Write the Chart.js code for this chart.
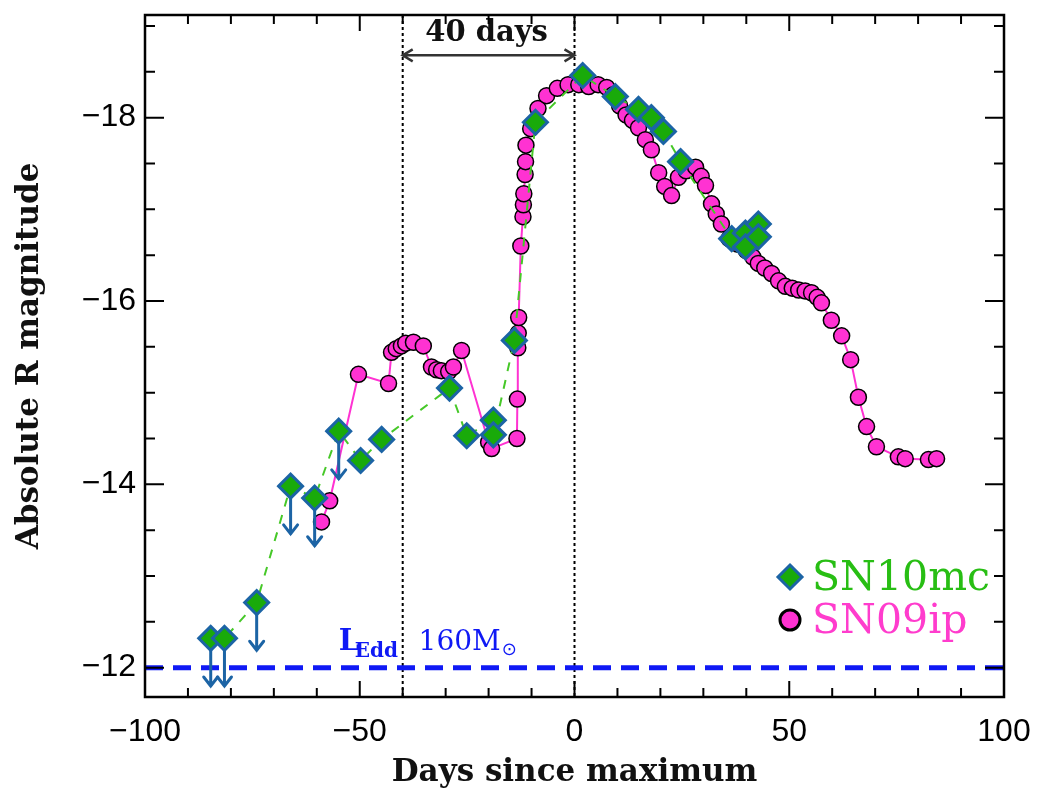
<!DOCTYPE html>
<html>
<head>
<meta charset="utf-8">
<script src="https://cdn.jsdelivr.net/npm/chart.js@4/dist/chart.umd.min.js"></script>
<style>
  html, body { margin: 0; padding: 0; background: #fff; }
</style>
</head>
<body>
<canvas id="lightCurve" width="1039" height="793"></canvas>
<script>
// SN 2010mc (diamonds, first six are upper limits)
const mcDays = [-84.7, -81.5, -74.0, -66.1, -60.5, -54.9, -49.8, -44.9, -29.1, -25.1, -18.9, -18.9, -14.0,
  -9.1, 1.9, 9.5, 14.9, 17.9, 20.7, 24.7, 36.6, 39.8, 39.8, 42.8, 42.8];
const mcMags = [-12.32, -12.32, -12.71, -13.98, -13.85, -14.58, -14.26, -14.49, -15.05, -14.53, -14.70, -14.54, -15.57,
  -17.95, -18.46, -18.23, -18.09, -18.00, -17.85, -17.52, -16.68, -16.74, -16.59, -16.84, -16.70];
const mcUpperLimit = [1, 1, 1, 1, 1, 1, 0, 0, 0, 0, 0, 0, 0, 0, 0, 0, 0, 0, 0, 0, 0, 0, 0, 0, 0];

// SN 2009ip (circles)
const ipDays = [-58.9, -57.0, -50.3, -43.3, -42.6, -41.5, -40.3, -39.3, -37.5, -35.2, -33.3, -32.1, -31.0, -29.3,
  -28.2, -26.3, -20.0, -19.3, -13.4, -13.3, -13.2, -13.1, -13.0, -12.5, -12.0, -11.9, -11.8, -11.5, -11.4, -11.3,
  -10.2, -8.5, -6.5, -4.0, -1.5, 1.0, 3.3, 5.5, 7.5, 9.0, 10.5, 12.0, 13.5, 14.9, 16.5, 17.9, 19.6, 21.0, 22.6,
  24.2, 26.0, 28.2, 29.5, 30.5, 31.9, 33.0, 34.2, 36.0, 38.0, 40.0, 41.5, 42.8, 44.3, 45.9, 47.5, 49.1, 50.7, 52.2,
  53.7, 55.2, 56.5, 57.5, 59.8, 62.2, 64.3, 66.1, 68.0, 70.3, 75.4, 77.0, 82.4, 84.3];
const ipMags = [-13.59, -13.82, -15.20, -15.10, -15.44, -15.48, -15.51, -15.54, -15.55, -15.51, -15.28, -15.25, -15.24, -15.23,
  -15.28, -15.46, -14.46, -14.39, -14.50, -14.93, -15.49, -15.65, -15.82, -16.60, -16.92, -17.05, -17.17, -17.38, -17.52, -17.70,
  -17.88, -18.10, -18.24, -18.32, -18.36, -18.36, -18.34, -18.36, -18.33, -18.25, -18.13, -18.03, -17.97, -17.89, -17.76, -17.65, -17.40, -17.25, -17.15,
  -17.35, -17.42, -17.46, -17.36, -17.26, -17.06, -16.95, -16.84, -16.68, -16.62, -16.55, -16.48, -16.41, -16.36, -16.30, -16.22, -16.16, -16.14, -16.12,
  -16.11, -16.09, -16.04, -15.98, -15.79, -15.62, -15.36, -14.95, -14.63, -14.41, -14.30, -14.28, -14.27, -14.28];

const xTickValues = [-100, -50, 0, 50, 100];
const yTickValues = [-18, -16, -14, -12];
const eddMag = -12;          // Eddington limit for 160 Msun
const markDays = [-40, 0];   // dotted verticals, "40 days" apart

const xMin = -100, xMax = 100;
const yMin = -19.12, yMax = -11.68;

const GREEN = 'rgb(25,170,10)';
const EDGE_BLUE = 'rgb(28,100,165)';
const MAGENTA = 'rgb(255,50,210)';
const LINE_BLUE = 'rgb(15,25,245)';

const fmtMinus = (v) => (v < 0 ? '\u2212' + Math.abs(v) : String(v));

// upper-limit arrows, drawn after SN09ip but under the diamonds
const limitArrows = {
  id: 'limitArrows',
  afterDatasetDraw(chart, args) {
    if (args.index !== 1) return;
    const { ctx, scales: { x, y } } = chart;
    ctx.save();
    ctx.strokeStyle = EDGE_BLUE;
    ctx.lineWidth = 3;
    ctx.lineCap = 'round';
    mcDays.forEach((d, i) => {
      if (!mcUpperLimit[i]) return;
      const px = x.getPixelForValue(d);
      const y0 = y.getPixelForValue(mcMags[i]);
      const y1 = y.getPixelForValue(mcMags[i] + 0.52);
      ctx.beginPath();
      ctx.moveTo(px, y0);
      ctx.lineTo(px, y1);
      ctx.moveTo(px - 7, y1 - 9);
      ctx.lineTo(px, y1);
      ctx.lineTo(px + 7, y1 - 9);
      ctx.stroke();
    });
    ctx.restore();
  }
};

// annotations: 40 days arrow, Eddington label, legend
const annotations = {
  id: 'annotations',
  afterDatasetsDraw(chart) {
    const { ctx, chartArea: a, scales: { x, y } } = chart;
    ctx.save();

    // double arrow between the dotted lines
    const xa = x.getPixelForValue(markDays[0]);
    const xb = x.getPixelForValue(markDays[1]);
    const ya = y.getPixelForValue(-18.68);
    ctx.strokeStyle = '#333';
    ctx.lineWidth = 2.5;
    ctx.beginPath();
    ctx.moveTo(xa, ya); ctx.lineTo(xb, ya);
    ctx.moveTo(xa + 10, ya - 6); ctx.lineTo(xa, ya); ctx.lineTo(xa + 10, ya + 6);
    ctx.moveTo(xb - 10, ya - 6); ctx.lineTo(xb, ya); ctx.lineTo(xb - 10, ya + 6);
    ctx.stroke();
    ctx.fillStyle = '#111';
    ctx.font = 'bold 29px "DejaVu Serif"';
    ctx.textAlign = 'center';
    ctx.textBaseline = 'alphabetic';
    ctx.fillText('40 days', (xa + xb) / 2 - 2, y.getPixelForValue(-18.84));

    // L_Edd 160 Msun label
    ctx.fillStyle = LINE_BLUE;
    ctx.textAlign = 'left';
    const lx = x.getPixelForValue(-54.9);
    const ly = y.getPixelForValue(-12.19);
    ctx.font = 'bold 29px "DejaVu Serif"';
    ctx.fillText('L', lx, ly);
    ctx.font = 'bold 20px "DejaVu Serif"';
    ctx.fillText('Edd', lx + 16, ly + 7);
    ctx.font = '28px "DejaVu Serif"';
    const mx = x.getPixelForValue(-36.3);
    ctx.fillText('160M', mx, ly);
    const mw = ctx.measureText('160M').width;
    ctx.font = '18px "DejaVu Sans"';
    ctx.fillText('\u2299', mx + mw + 1, ly + 5);

    // legend
    const lgX = a.right - 214;
    const row1 = a.bottom - 120;
    const row2 = a.bottom - 77;
    ctx.beginPath();
    ctx.moveTo(lgX, row1 - 12); ctx.lineTo(lgX + 12, row1);
    ctx.lineTo(lgX, row1 + 12); ctx.lineTo(lgX - 12, row1); ctx.closePath();
    ctx.fillStyle = GREEN; ctx.fill();
    ctx.strokeStyle = EDGE_BLUE; ctx.lineWidth = 3; ctx.stroke();
    ctx.beginPath();
    ctx.arc(lgX, row2, 10, 0, Math.PI * 2);
    ctx.fillStyle = MAGENTA; ctx.fill();
    ctx.strokeStyle = '#000'; ctx.lineWidth = 3; ctx.stroke();
    ctx.font = '41px "DejaVu Serif"';
    ctx.textBaseline = 'middle';
    ctx.fillStyle = 'rgb(40,190,20)';
    ctx.fillText('SN10mc', lgX + 22, row1 + 2);
    ctx.fillStyle = 'rgb(255,60,205)';
    ctx.fillText('SN09ip', lgX + 22, row2 + 2);
    ctx.restore();
  }
};

// frame with inward ticks on all four sides
const frameTicks = {
  id: 'frameTicks',
  afterDraw(chart) {
    const { ctx, chartArea: a, scales: { x, y } } = chart;
    ctx.save();
    ctx.strokeStyle = '#000';
    ctx.lineWidth = 2;
    ctx.beginPath();
    for (let d = xMin; d <= xMax; d += 10) {
      const px = x.getPixelForValue(d);
      const len = d % 50 === 0 ? 16 : 9;
      ctx.moveTo(px, a.bottom); ctx.lineTo(px, a.bottom - len);
      ctx.moveTo(px, a.top); ctx.lineTo(px, a.top + len);
    }
    for (let m = -19; m <= -12; m += 0.5) {
      const py = y.getPixelForValue(m);
      const len = m % 2 === 0 ? 19 : 10;
      ctx.moveTo(a.left, py); ctx.lineTo(a.left + len, py);
      ctx.moveTo(a.right, py); ctx.lineTo(a.right - len, py);
    }
    ctx.stroke();
    ctx.lineWidth = 2.5;
    ctx.strokeRect(a.left, a.top, a.right - a.left, a.bottom - a.top);
    ctx.restore();
  }
};

const toPoints = (xs, ys) => xs.map((v, i) => ({ x: v, y: ys[i] }));

new Chart(document.getElementById('lightCurve').getContext('2d'), {
  type: 'scatter',
  data: {
    datasets: [
      {
        label: 'SN10mc',
        data: toPoints(mcDays, mcMags),
        showLine: true,
        borderColor: 'rgb(70,200,40)',
        borderWidth: 2,
        borderDash: [9, 9],
        pointStyle: 'rectRot',
        pointRadius: 12,
        pointBackgroundColor: GREEN,
        pointBorderColor: EDGE_BLUE,
        pointBorderWidth: 3
      },
      {
        label: 'SN09ip',
        data: toPoints(ipDays, ipMags),
        showLine: true,
        borderColor: MAGENTA,
        borderWidth: 2,
        pointRadius: 8,
        pointBackgroundColor: MAGENTA,
        pointBorderColor: '#000',
        pointBorderWidth: 1.5
      },
      {
        label: 'LEdd',
        data: [{ x: xMin, y: eddMag }, { x: xMax, y: eddMag }],
        showLine: true,
        borderColor: LINE_BLUE,
        borderWidth: 5,
        borderDash: [18, 10],
        pointRadius: 0
      },
      ...markDays.map((d) => ({
        label: 'mark ' + d,
        data: [{ x: d, y: yMin }, { x: d, y: yMax }],
        showLine: true,
        borderColor: '#000',
        borderWidth: 2,
        borderDash: [3, 3],
        pointRadius: 0
      }))
    ]
  },
  options: {
    responsive: false,
    animation: false,
    events: [],
    layout: { padding: { top: 6, right: 35, left: 0, bottom: 0 } },
    plugins: { legend: { display: false }, tooltip: { enabled: false } },
    scales: {
      x: {
        type: 'linear',
        min: xMin,
        max: xMax,
        grid: { display: false, drawTicks: false },
        border: { display: false },
        afterBuildTicks: (s) => { s.ticks = xTickValues.map((v) => ({ value: v })); },
        afterFit: (s) => { s.height = 96; s.paddingLeft = 0; s.paddingRight = 0; },
        ticks: {
          padding: 16,
          color: '#000',
          maxRotation: 0,
          font: { family: 'Liberation Sans', size: 32 },
          callback: fmtMinus
        },
        title: {
          display: true,
          text: 'Days since maximum',
          color: '#111',
          padding: { top: 0, bottom: 1 },
          font: { family: 'DejaVu Serif', size: 31, weight: 'bold' }
        }
      },
      y: {
        type: 'linear',
        reverse: true,
        min: yMin,
        max: yMax,
        grid: { display: false, drawTicks: false },
        border: { display: false },
        afterBuildTicks: (s) => { s.ticks = yTickValues.map((v) => ({ value: v })); },
        afterFit: (s) => { s.width = 145; s.paddingTop = 0; s.paddingBottom = 0; },
        ticks: {
          padding: 9,
          color: '#000',
          font: { family: 'Liberation Sans', size: 32 },
          callback: fmtMinus
        },
        title: {
          display: true,
          text: 'Absolute R magnitude',
          color: '#111',
          padding: { top: 11, bottom: 0 },
          font: { family: 'DejaVu Serif', size: 31, weight: 'bold' }
        }
      }
    }
  },
  plugins: [limitArrows, annotations, frameTicks]
});
</script>
</body>
</html>
